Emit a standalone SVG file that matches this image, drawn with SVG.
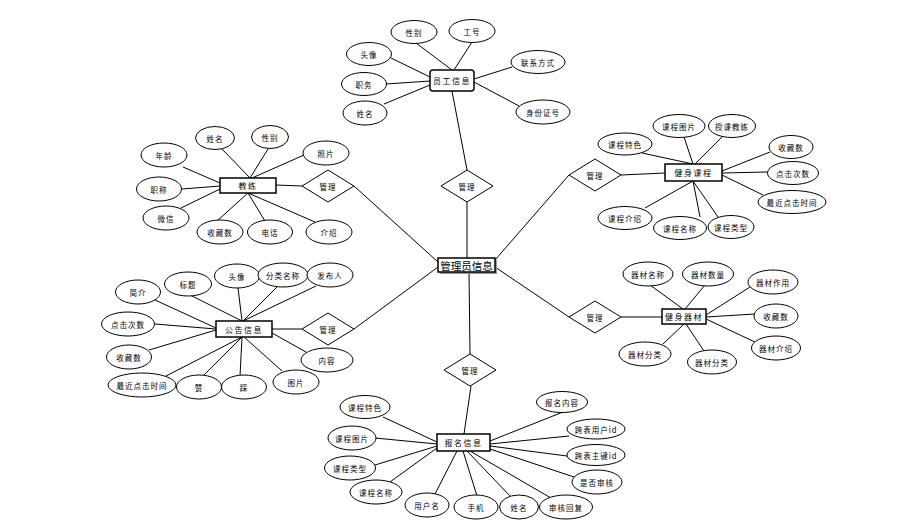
<svg xmlns="http://www.w3.org/2000/svg" width="912" height="526" viewBox="0 0 912 526">
<style>
.c line{stroke:#000;stroke-width:1}
.e{fill:#fff;stroke:#000;stroke-width:1}
.b{fill:#fff;stroke:#000;stroke-width:1.5}
.d{fill:#fff;stroke:#000;stroke-width:1}
text{font-family:"Noto Sans CJK SC","Noto Sans",sans-serif;font-size:7.5px;text-anchor:middle;dominant-baseline:central;fill:#000;letter-spacing:1px}
.bt{font-size:8px;letter-spacing:1.5px}
.mt{font-size:10.5px;letter-spacing:0}
</style>
<rect width="912" height="526" fill="#fff"/>
<g class="c" id="connectors">
<line x1="467" y1="202" x2="467" y2="258"/>
<line x1="354" y1="186" x2="438" y2="262"/>
<line x1="354" y1="329" x2="438" y2="267"/>
<line x1="495" y1="260" x2="569" y2="175"/>
<line x1="495" y1="267" x2="569" y2="317"/>
<line x1="469" y1="272" x2="470" y2="354"/>
<line x1="467" y1="170" x2="452" y2="91"/>
<line x1="416" y1="43" x2="452" y2="70"/>
<line x1="472" y1="42" x2="454" y2="70"/>
<line x1="391" y1="58" x2="430" y2="77"/>
<line x1="386" y1="84" x2="430" y2="81"/>
<line x1="384" y1="104" x2="430" y2="85"/>
<line x1="512" y1="67" x2="474" y2="79"/>
<line x1="519" y1="106" x2="474" y2="82"/>
<line x1="621" y1="175" x2="665" y2="173"/>
<line x1="642" y1="153" x2="693" y2="164"/>
<line x1="684" y1="137" x2="693" y2="164"/>
<line x1="722" y1="137" x2="695" y2="164"/>
<line x1="770" y1="152" x2="722" y2="171"/>
<line x1="767" y1="172" x2="722" y2="173"/>
<line x1="763" y1="195" x2="722" y2="175"/>
<line x1="645" y1="208" x2="693" y2="181"/>
<line x1="700" y1="217" x2="693" y2="181"/>
<line x1="718" y1="217" x2="693" y2="181"/>
<line x1="276" y1="185" x2="302" y2="186"/>
<line x1="222" y1="149" x2="250" y2="178"/>
<line x1="268" y1="149" x2="250" y2="178"/>
<line x1="304" y1="155" x2="252" y2="178"/>
<line x1="183" y1="167" x2="220" y2="183"/>
<line x1="182" y1="189" x2="220" y2="186"/>
<line x1="181" y1="208" x2="220" y2="189"/>
<line x1="217" y1="221" x2="248" y2="193"/>
<line x1="265" y1="221" x2="248" y2="193"/>
<line x1="315" y1="222" x2="248" y2="193"/>
<line x1="272" y1="329" x2="302" y2="329"/>
<line x1="155" y1="300" x2="216" y2="328"/>
<line x1="190" y1="295" x2="242" y2="321"/>
<line x1="238" y1="288" x2="242" y2="321"/>
<line x1="277" y1="287" x2="243" y2="321"/>
<line x1="316" y1="286" x2="243" y2="321"/>
<line x1="155" y1="324" x2="216" y2="329"/>
<line x1="149" y1="350" x2="216" y2="330"/>
<line x1="166" y1="376" x2="242" y2="337"/>
<line x1="202" y1="377" x2="242" y2="337"/>
<line x1="240" y1="376" x2="242" y2="337"/>
<line x1="282" y1="371" x2="244" y2="337"/>
<line x1="306" y1="352" x2="272" y2="333"/>
<line x1="621" y1="317" x2="662" y2="317"/>
<line x1="650" y1="285" x2="683" y2="309"/>
<line x1="705" y1="285" x2="685" y2="309"/>
<line x1="750" y1="287" x2="706" y2="315"/>
<line x1="755" y1="314" x2="706" y2="317"/>
<line x1="757" y1="343" x2="706" y2="319"/>
<line x1="663" y1="344" x2="684" y2="324"/>
<line x1="704" y1="351" x2="686" y2="324"/>
<line x1="471" y1="386" x2="464" y2="434"/>
<line x1="383" y1="417" x2="437" y2="442"/>
<line x1="375" y1="438" x2="437" y2="444"/>
<line x1="375" y1="465" x2="437" y2="446"/>
<line x1="390" y1="482" x2="437" y2="448"/>
<line x1="435" y1="494" x2="457" y2="451"/>
<line x1="477" y1="496" x2="463" y2="451"/>
<line x1="511" y1="497" x2="467" y2="451"/>
<line x1="551" y1="498" x2="470" y2="451"/>
<line x1="577" y1="478" x2="490" y2="449"/>
<line x1="567" y1="456" x2="490" y2="446"/>
<line x1="569" y1="436" x2="490" y2="444"/>
<line x1="563" y1="412" x2="490" y2="441"/>
</g>
<g id="admin"><rect x="440" y="260" width="57" height="14" fill="#999"/><rect class="b" x="438" y="258" width="57" height="14" stroke-width="1.2"/><text class="mt" x="466.5" y="265.5">管理员信息</text></g>
<g id="rel-top"><polygon class="d" points="467,170 493,186 467,202 441,186"/><text x="467" y="186">管理</text></g>
<g id="rel-coach"><polygon class="d" points="328,170 354,186 328,202 302,186"/><text x="328" y="186">管理</text></g>
<g id="rel-notice"><polygon class="d" points="328,313 354,329 328,345 302,329"/><text x="328" y="329">管理</text></g>
<g id="rel-course"><polygon class="d" points="595,159 621,175 595,191 569,175"/><text x="595" y="175">管理</text></g>
<g id="rel-equip"><polygon class="d" points="595,301 621,317 595,333 569,317"/><text x="595" y="317">管理</text></g>
<g id="rel-reg"><polygon class="d" points="470,354 496,370 470,386 444,370"/><text x="470" y="370">管理</text></g>

<g id="employee"><rect class="b" x="430" y="70" width="44" height="21" rx="3"/><text class="bt" x="452" y="80.5">员工信息</text></g>
<g id="emp-a1"><ellipse class="e" cx="414" cy="32" rx="23" ry="11.5"/><text x="414" y="32">性别</text></g>
<g id="emp-a2"><ellipse class="e" cx="472" cy="31" rx="23" ry="11.5"/><text x="472" y="31">工号</text></g>
<g id="emp-a3"><ellipse class="e" cx="369" cy="54" rx="22.5" ry="11.5"/><text x="369" y="54">头像</text></g>
<g id="emp-a4"><ellipse class="e" cx="364" cy="84" rx="22.5" ry="11.5"/><text x="364" y="84">职务</text></g>
<g id="emp-a5"><ellipse class="e" cx="365" cy="113" rx="22" ry="12"/><text x="365" y="113">姓名</text></g>
<g id="emp-a6"><ellipse class="e" cx="538" cy="62" rx="27" ry="11.5"/><text x="538" y="62">联系方式</text></g>
<g id="emp-a7"><ellipse class="e" cx="543" cy="112" rx="27" ry="12"/><text x="543" y="112">身份证号</text></g>

<g id="course"><rect class="b" x="665" y="164" width="57" height="17"/><text class="bt" x="693.5" y="172.5">健身课程</text></g>
<g id="crs-a1"><ellipse class="e" cx="625" cy="144" rx="27" ry="11"/><text x="625" y="144">课程特色</text></g>
<g id="crs-a2"><ellipse class="e" cx="679" cy="126" rx="26" ry="11.5"/><text x="679" y="126">课程图片</text></g>
<g id="crs-a3"><ellipse class="e" cx="732" cy="126" rx="23.5" ry="11.5"/><text x="732" y="126">授课教练</text></g>
<g id="crs-a4"><ellipse class="e" cx="791" cy="147" rx="22" ry="11.5"/><text x="791" y="147">收藏数</text></g>
<g id="crs-a5"><ellipse class="e" cx="793" cy="173" rx="25.5" ry="11.5"/><text x="793" y="173">点击次数</text></g>
<g id="crs-a6"><ellipse class="e" cx="792" cy="202" rx="34" ry="11.5"/><text x="792" y="202">最近点击时间</text></g>
<g id="crs-a7"><ellipse class="e" cx="625" cy="218" rx="27" ry="11.5"/><text x="625" y="218">课程介绍</text></g>
<g id="crs-a8"><ellipse class="e" cx="680" cy="228" rx="26.5" ry="11.5"/><text x="680" y="228">课程名称</text></g>
<g id="crs-a9"><ellipse class="e" cx="731" cy="227" rx="23" ry="11.5"/><text x="731" y="227">课程类型</text></g>

<g id="coach"><rect class="b" x="220" y="178" width="56" height="15"/><text class="bt" x="248" y="185.5">教练</text></g>
<g id="cch-a1"><ellipse class="e" cx="215" cy="138" rx="19.5" ry="11.5"/><text x="215" y="138">姓名</text></g>
<g id="cch-a2"><ellipse class="e" cx="270" cy="137" rx="18.5" ry="11.5"/><text x="270" y="137">性别</text></g>
<g id="cch-a3"><ellipse class="e" cx="326" cy="153" rx="23" ry="12"/><text x="326" y="153">照片</text></g>
<g id="cch-a4"><ellipse class="e" cx="164" cy="155" rx="23" ry="12"/><text x="164" y="155">年龄</text></g>
<g id="cch-a5"><ellipse class="e" cx="159" cy="189" rx="22.5" ry="12"/><text x="159" y="189">职称</text></g>
<g id="cch-a6"><ellipse class="e" cx="166" cy="218" rx="23" ry="12"/><text x="166" y="218">微信</text></g>
<g id="cch-a7"><ellipse class="e" cx="220" cy="232" rx="23" ry="12"/><text x="220" y="232">收藏数</text></g>
<g id="cch-a8"><ellipse class="e" cx="270" cy="232" rx="22.5" ry="12"/><text x="270" y="232">电话</text></g>
<g id="cch-a9"><ellipse class="e" cx="329" cy="232" rx="23" ry="12"/><text x="329" y="232">介绍</text></g>

<g id="notice"><rect class="b" x="216" y="321" width="56" height="16"/><text class="bt" x="244" y="329">公告信息</text></g>
<g id="ntc-a1"><ellipse class="e" cx="138" cy="292" rx="22.5" ry="12"/><text x="138" y="292">简介</text></g>
<g id="ntc-a2"><ellipse class="e" cx="188" cy="284" rx="23.5" ry="12"/><text x="188" y="284">标题</text></g>
<g id="ntc-a3"><ellipse class="e" cx="237" cy="276" rx="22.5" ry="12"/><text x="237" y="276">头像</text></g>
<g id="ntc-a4"><ellipse class="e" cx="283" cy="275" rx="25" ry="12"/><text x="283" y="275">分类名称</text></g>
<g id="ntc-a5"><ellipse class="e" cx="330" cy="275" rx="23" ry="12"/><text x="330" y="275">发布人</text></g>
<g id="ntc-a6"><ellipse class="e" cx="128" cy="324" rx="26.5" ry="12"/><text x="128" y="324">点击次数</text></g>
<g id="ntc-a7"><ellipse class="e" cx="129" cy="357" rx="22.5" ry="12"/><text x="129" y="357">收藏数</text></g>
<g id="ntc-a8"><ellipse class="e" cx="142" cy="385" rx="34" ry="12"/><text x="142" y="385">最近点击时间</text></g>
<g id="ntc-a9"><ellipse class="e" cx="199" cy="387" rx="22.5" ry="12"/><text x="199" y="387">赞</text></g>
<g id="ntc-a10"><ellipse class="e" cx="244" cy="387" rx="22.5" ry="12"/><text x="244" y="387">踩</text></g>
<g id="ntc-a11"><ellipse class="e" cx="296" cy="382" rx="23" ry="12"/><text x="296" y="382">图片</text></g>
<g id="ntc-a12"><ellipse class="e" cx="327" cy="360" rx="26" ry="12"/><text x="327" y="360">内容</text></g>

<g id="equipment"><rect class="b" x="662" y="309" width="44" height="15"/><text class="bt" x="684" y="316.5">健身器材</text></g>
<g id="eqp-a1"><ellipse class="e" cx="648" cy="274" rx="25" ry="12"/><text x="648" y="274">器材名称</text></g>
<g id="eqp-a2"><ellipse class="e" cx="708" cy="274" rx="25.5" ry="12"/><text x="708" y="274">器材数量</text></g>
<g id="eqp-a3"><ellipse class="e" cx="773" cy="282" rx="25" ry="12"/><text x="773" y="282">器材作用</text></g>
<g id="eqp-a4"><ellipse class="e" cx="776" cy="316" rx="22" ry="12"/><text x="776" y="316">收藏数</text></g>
<g id="eqp-a5"><ellipse class="e" cx="776" cy="348" rx="24.5" ry="12"/><text x="776" y="348">器材介绍</text></g>
<g id="eqp-a6"><ellipse class="e" cx="645" cy="354" rx="26" ry="12"/><text x="645" y="354">器材分类</text></g>
<g id="eqp-a7"><ellipse class="e" cx="712" cy="362" rx="24.5" ry="12"/><text x="712" y="362">器材分类</text></g>

<g id="registration"><rect class="b" x="437" y="434" width="53" height="17"/><text class="bt" x="463.5" y="442.5">报名信息</text></g>
<g id="reg-a1"><ellipse class="e" cx="365" cy="407" rx="25" ry="11.5"/><text x="365" y="407">课程特色</text></g>
<g id="reg-a2"><ellipse class="e" cx="352" cy="438" rx="24" ry="12"/><text x="352" y="438">课程图片</text></g>
<g id="reg-a3"><ellipse class="e" cx="350" cy="468" rx="25.5" ry="12"/><text x="350" y="468">课程类型</text></g>
<g id="reg-a4"><ellipse class="e" cx="376" cy="492" rx="26" ry="12"/><text x="376" y="492">课程名称</text></g>
<g id="reg-a5"><ellipse class="e" cx="427" cy="505" rx="22" ry="12"/><text x="427" y="505">用户名</text></g>
<g id="reg-a6"><ellipse class="e" cx="476" cy="507" rx="22" ry="12"/><text x="476" y="507">手机</text></g>
<g id="reg-a7"><ellipse class="e" cx="519" cy="507" rx="19.5" ry="12"/><text x="519" y="507">姓名</text></g>
<g id="reg-a8"><ellipse class="e" cx="566" cy="507" rx="26.5" ry="12"/><text x="566" y="507">审核回复</text></g>
<g id="reg-a9"><ellipse class="e" cx="597" cy="482" rx="25" ry="12"/><text x="597" y="482">是否审核</text></g>
<g id="reg-a10"><ellipse class="e" cx="596" cy="455" rx="29" ry="10.5"/><text x="596" y="455">跨表主键id</text></g>
<g id="reg-a11"><ellipse class="e" cx="596" cy="429" rx="29" ry="10"/><text x="596" y="429">跨表用户id</text></g>
<g id="reg-a12"><ellipse class="e" cx="562" cy="402" rx="25.5" ry="10.5"/><text x="562" y="402">报名内容</text></g>
</svg>
